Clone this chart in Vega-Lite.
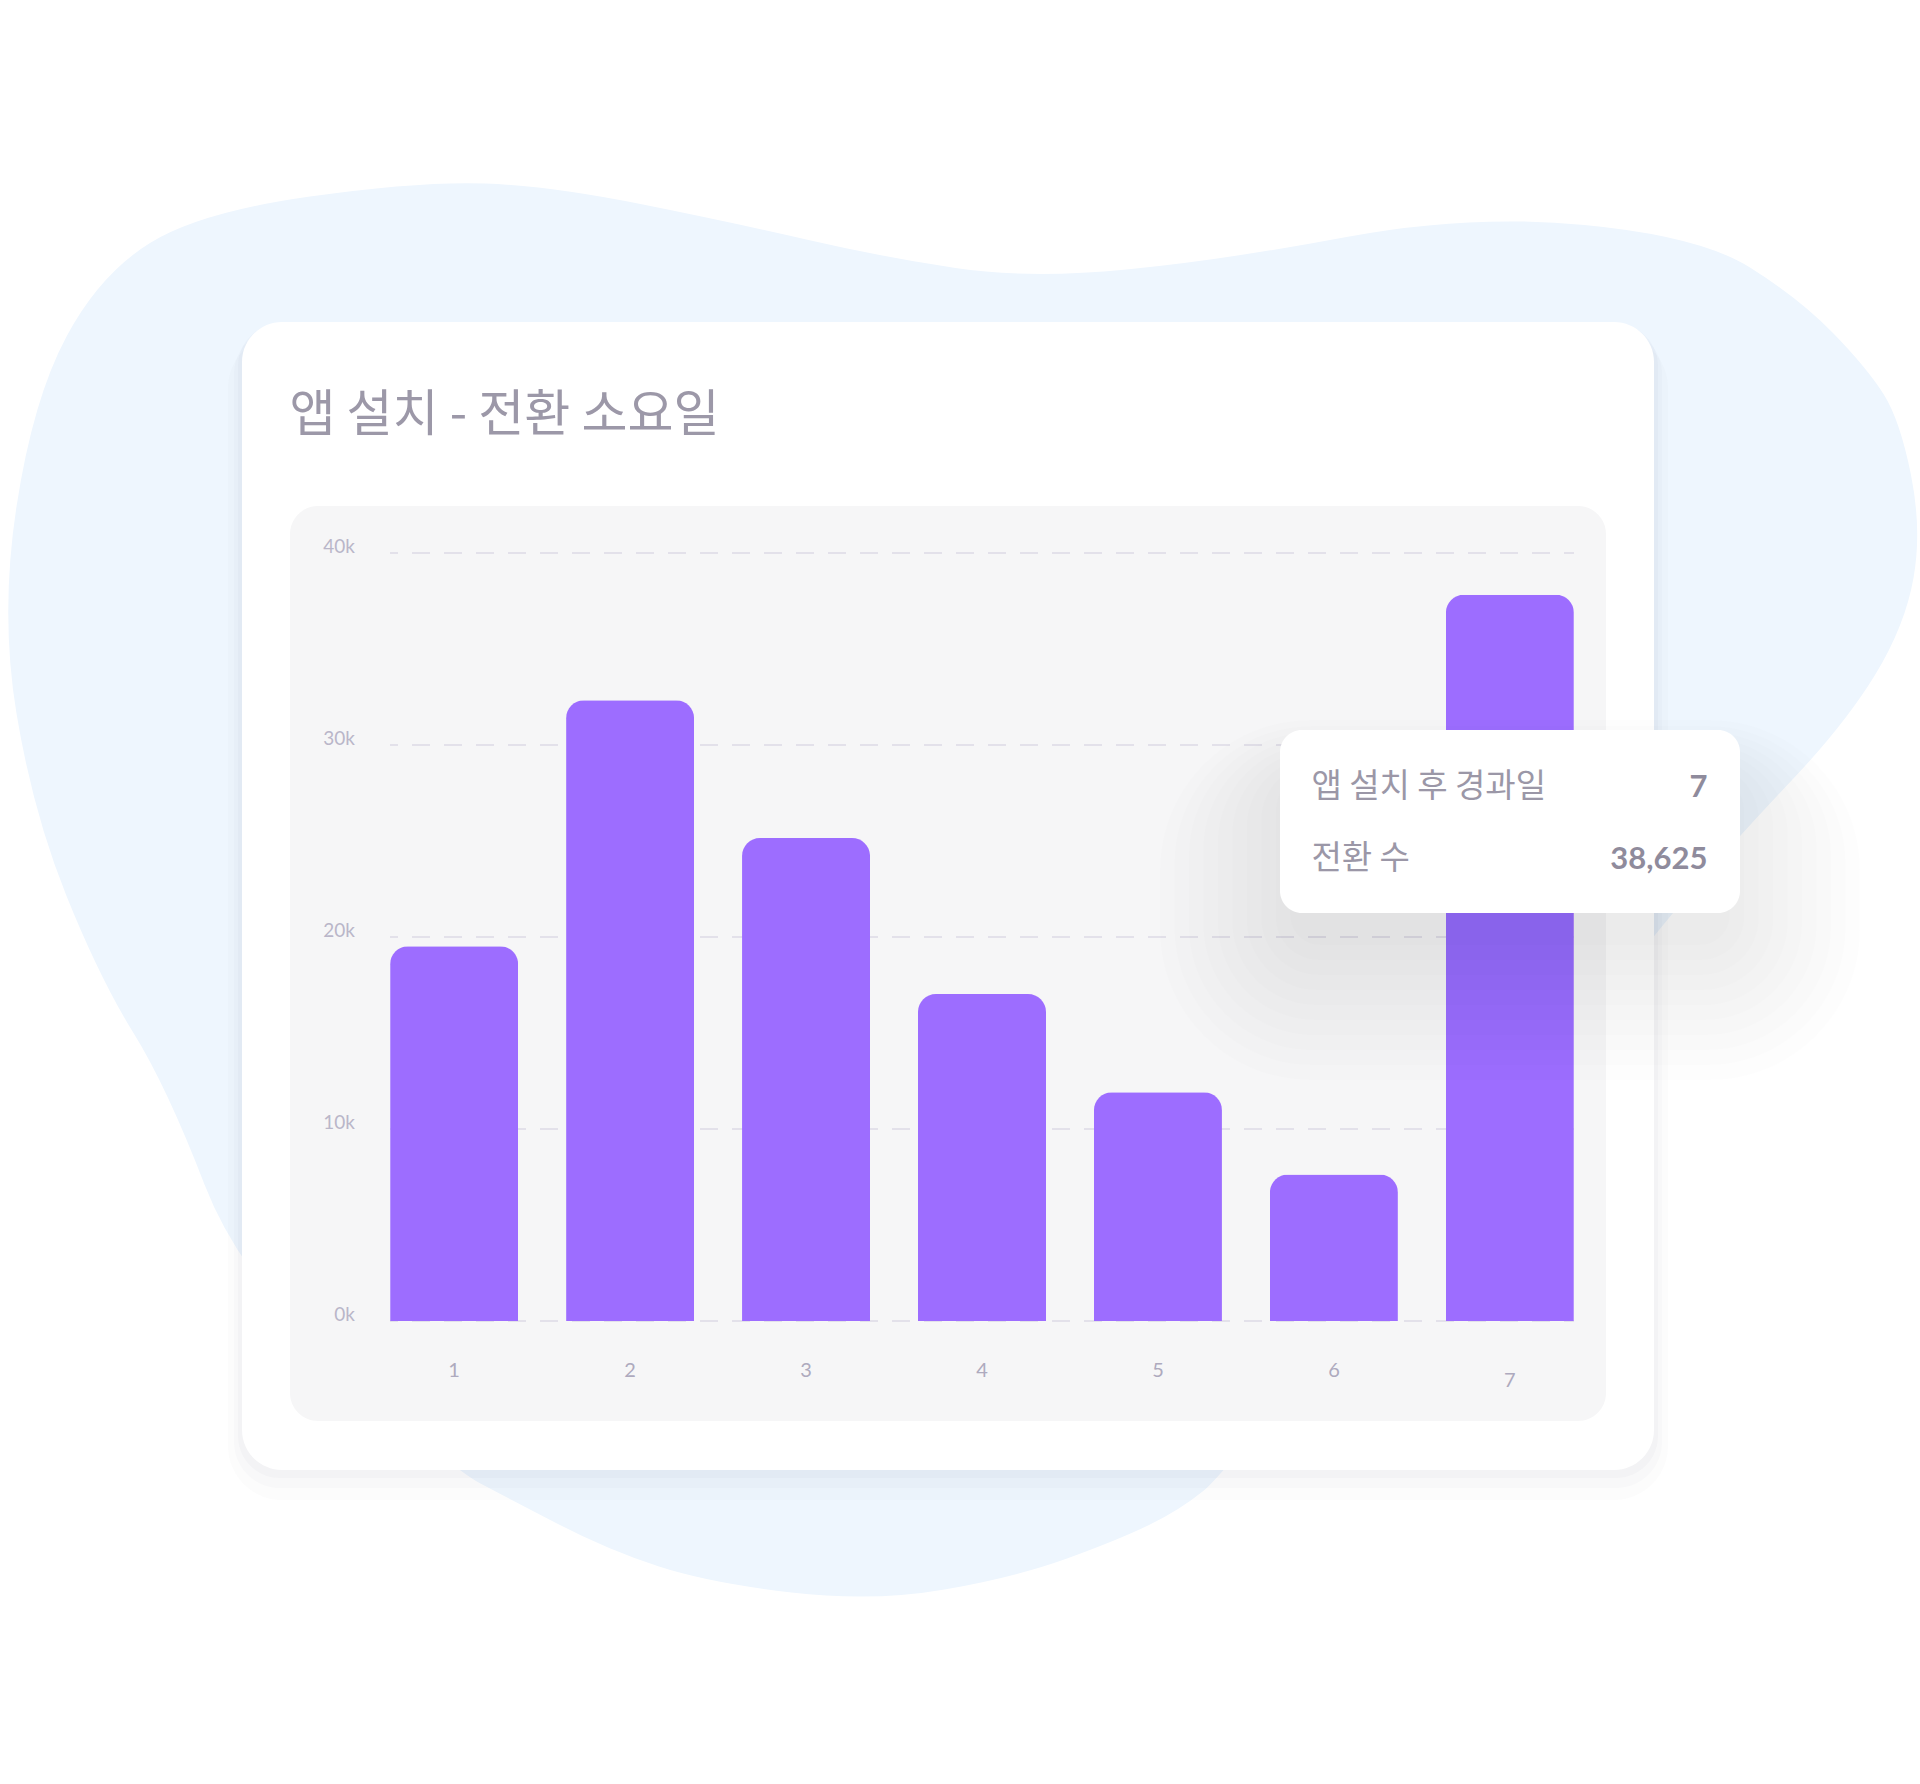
{
  "$schema": "https://vega.github.io/schema/vega-lite/v6.json",
  "width": 1184,
  "height": 768,
  "autosize": "none",
  "padding": {"left": 390, "top": 553, "right": 346, "bottom": 463},
  "background": "#ffffff",
  "config": {"view": {"stroke": null}},
  "datasets": {
    "days": [
      {"day": 1, "conversions": 19516},
      {"day": 2, "conversions": 32328},
      {"day": 3, "conversions": 25156},
      {"day": 4, "conversions": 17031},
      {"day": 5, "conversions": 11911},
      {"day": 6, "conversions": 7630},
      {"day": 7, "conversions": 37823}
    ],
    "ticks": [
      {"tick": 0, "label": "0k"},
      {"tick": 10000, "label": "10k"},
      {"tick": 20000, "label": "20k"},
      {"tick": 30000, "label": "30k"},
      {"tick": 40000, "label": "40k"}
    ],
    "one": [{}]
  },
  "layer": [
    {
      "data": {"name": "one"},
      "mark": {
        "type": "point",
        "filled": true,
        "opacity": 1,
        "color": "#eef6fe",
        "strokeWidth": 0,
        "shape": "M -0.9655 -0.2235 Q -0.982 -0.323 -0.9655 -0.4305 Q -0.949 -0.538 -0.9155 -0.6005 Q -0.882 -0.663 -0.832 -0.694 Q -0.782 -0.725 -0.672 -0.7405 Q -0.562 -0.756 -0.4965 -0.7535 Q -0.431 -0.751 -0.339 -0.7325 Q -0.247 -0.714 -0.1735 -0.697 Q -0.1 -0.68 -0.0265 -0.669 Q 0.047 -0.658 0.1445 -0.6675 Q 0.242 -0.677 0.3645 -0.7 Q 0.487 -0.723 0.6025 -0.712 Q 0.718 -0.701 0.768 -0.6695 Q 0.818 -0.638 0.8515 -0.6035 Q 0.885 -0.569 0.9015 -0.543 Q 0.918 -0.517 0.929 -0.462 Q 0.94 -0.407 0.9315 -0.359 Q 0.923 -0.311 0.893 -0.262 Q 0.863 -0.213 0.8105 -0.1575 Q 0.758 -0.102 0.715 -0.0525 Q 0.672 -0.003 0.4595 0.265 Q 0.247 0.533 0.2225 0.553 Q 0.198 0.573 0.167 0.588 Q 0.136 0.603 0.085 0.6215 Q 0.034 0.64 -0.0375 0.6525 Q -0.109 0.665 -0.1905 0.6555 Q -0.272 0.646 -0.323 0.6295 Q -0.374 0.613 -0.425 0.5865 Q -0.476 0.56 -0.5025 0.546 Q -0.529 0.532 -0.6345 0.4385 Q -0.74 0.345 -0.7775 0.2475 Q -0.815 0.15 -0.8485 0.096 Q -0.882 0.042 -0.9155 -0.041 Q -0.949 -0.124 -0.9655 -0.2235 Z"
      },
      "encoding": {
        "x": {"datum": 4, "type": "quantitative", "scale": {"domain": [0.6357, 7.3643], "nice": false, "zero": false, "padding": 0}, "axis": null},
        "y": {"datum": 20000, "type": "quantitative", "scale": {"domain": [0, 40000], "nice": false}, "axis": null},
        "size": {"value": 4000000}
      }
    },
    {
      "data": {"name": "one"},
      "mark": {"type": "rect", "color": "#5a6478", "opacity": 0.02, "cornerRadius": 54},
      "encoding": {
        "x": {"datum": -0.2849, "type": "quantitative", "scale": {"domain": [0.6357, 7.3643], "nice": false, "zero": false, "padding": 0}, "axis": null},
        "x2": {"datum": 7.8984},
        "y": {"datum": 51406, "type": "quantitative", "scale": {"domain": [0, 40000], "nice": false}, "axis": null},
        "y2": {"datum": -9323}
      }
    },
    {
      "data": {"name": "one"},
      "mark": {"type": "rect", "color": "#5a6478", "opacity": 0.025, "cornerRadius": 46},
      "encoding": {
        "x": {"datum": -0.2508, "type": "quantitative", "scale": {"domain": [0.6357, 7.3643], "nice": false, "zero": false, "padding": 0}, "axis": null},
        "x2": {"datum": 7.8644},
        "y": {"datum": 51719, "type": "quantitative", "scale": {"domain": [0, 40000], "nice": false}, "axis": null},
        "y2": {"datum": -8698}
      }
    },
    {
      "data": {"name": "one"},
      "mark": {"type": "rect", "color": "#5a6478", "opacity": 0.03, "cornerRadius": 42},
      "encoding": {
        "x": {"datum": -0.2281, "type": "quantitative", "scale": {"domain": [0.6357, 7.3643], "nice": false, "zero": false, "padding": 0}, "axis": null},
        "x2": {"datum": 7.8416},
        "y": {"datum": 51927, "type": "quantitative", "scale": {"domain": [0, 40000], "nice": false}, "axis": null},
        "y2": {"datum": -8177}
      }
    },
    {
      "data": {"name": "one"},
      "mark": {"type": "rect", "color": "#ffffff", "cornerRadius": 40},
      "encoding": {
        "x": {"datum": -0.2054, "type": "quantitative", "scale": {"domain": [0.6357, 7.3643], "nice": false, "zero": false, "padding": 0}, "axis": null},
        "x2": {"datum": 7.8189},
        "y": {"datum": 52031, "type": "quantitative", "scale": {"domain": [0, 40000], "nice": false}, "axis": null},
        "y2": {"datum": -7760}
      }
    },
    {
      "data": {"name": "one"},
      "mark": {"type": "rect", "color": "#f6f6f7", "cornerRadius": 28},
      "encoding": {
        "x": {"datum": 0.0674, "type": "quantitative", "scale": {"domain": [0.6357, 7.3643], "nice": false, "zero": false, "padding": 0}, "axis": null},
        "x2": {"datum": 7.5461},
        "y": {"datum": 42448, "type": "quantitative", "scale": {"domain": [0, 40000], "nice": false}, "axis": null},
        "y2": {"datum": -5208}
      }
    },
    {
      "data": {"name": "ticks"},
      "mark": {"type": "rule", "color": "#e3e1ea", "strokeWidth": 2, "strokeDash": [18, 14], "strokeDashOffset": 8},
      "encoding": {
        "y": {"field": "tick", "type": "quantitative", "scale": {"domain": [0, 40000], "nice": false}, "axis": null}
      }
    },
    {
      "data": {"name": "ticks"},
      "mark": {"type": "text", "font": "Lato", "fontSize": 19, "color": "#bab6c9", "align": "right", "baseline": "alphabetic"},
      "encoding": {
        "x": {"datum": 0.4368, "type": "quantitative", "scale": {"domain": [0.6357, 7.3643], "nice": false, "zero": false, "padding": 0}, "axis": null},
        "y": {"field": "tick", "type": "quantitative", "scale": {"domain": [0, 40000], "nice": false}, "axis": null},
        "text": {"field": "label"}
      }
    },
    {
      "data": {"name": "days"},
      "mark": {"type": "bar", "size": 128, "color": "#9d6dff", "cornerRadiusTopLeft": 18, "cornerRadiusTopRight": 18},
      "encoding": {
        "x": {"field": "day", "type": "quantitative", "scale": {"domain": [0.6357, 7.3643], "nice": false, "zero": false, "padding": 0}, "axis": null},
        "y": {"field": "conversions", "type": "quantitative", "scale": {"domain": [0, 40000], "nice": false}, "axis": null}
      }
    },
    {
      "data": {"name": "days"},
      "transform": [{"filter": "datum.day < 7"}],
      "mark": {"type": "text", "font": "Lato", "fontSize": 20, "color": "#aeaabe", "align": "center", "baseline": "alphabetic"},
      "encoding": {
        "x": {"field": "day", "type": "quantitative", "scale": {"domain": [0.6357, 7.3643], "nice": false, "zero": false, "padding": 0}, "axis": null},
        "y": {"datum": -2901, "type": "quantitative", "scale": {"domain": [0, 40000], "nice": false}, "axis": null},
        "text": {"field": "day", "type": "quantitative", "format": "d"}
      }
    },
    {
      "data": {"name": "days"},
      "transform": [{"filter": "datum.day === 7"}],
      "mark": {"type": "text", "font": "Lato", "fontSize": 20, "color": "#aeaabe", "align": "center", "baseline": "alphabetic"},
      "encoding": {
        "x": {"field": "day", "type": "quantitative", "scale": {"domain": [0.6357, 7.3643], "nice": false, "zero": false, "padding": 0}, "axis": null},
        "y": {"datum": -3422, "type": "quantitative", "scale": {"domain": [0, 40000], "nice": false}, "axis": null},
        "text": {"field": "day", "type": "quantitative", "format": "d"}
      }
    },
    {
      "data": {"name": "one"},
      "mark": {"type": "text", "text": "앱 설치 - 전환 소요일", "font": "Noto Sans CJK KR", "fontSize": 50, "color": "#9c98a8", "align": "left", "baseline": "alphabetic"},
      "encoding": {
        "x": {"datum": 0.064, "type": "quantitative", "scale": {"domain": [0.6357, 7.3643], "nice": false, "zero": false, "padding": 0}, "axis": null},
        "y": {"datum": 46354, "type": "quantitative", "scale": {"domain": [0, 40000], "nice": false}, "axis": null}
      }
    },
    {
      "data": {"name": "one"},
      "mark": {"type": "rect", "color": "#28283c", "opacity": 0.0075, "cornerRadius": 150},
      "encoding": {
        "x": {"datum": 5.0115, "type": "quantitative", "scale": {"domain": [0.6357, 7.3643], "nice": false, "zero": false, "padding": 0}, "axis": null},
        "x2": {"datum": 8.9896},
        "y": {"datum": 31302, "type": "quantitative", "scale": {"domain": [0, 40000], "nice": false}, "axis": null},
        "y2": {"datum": 12552}
      }
    },
    {
      "data": {"name": "one"},
      "mark": {"type": "rect", "color": "#28283c", "opacity": 0.0075, "cornerRadius": 137},
      "encoding": {
        "x": {"datum": 5.0934, "type": "quantitative", "scale": {"domain": [0.6357, 7.3643], "nice": false, "zero": false, "padding": 0}, "axis": null},
        "x2": {"datum": 8.9078},
        "y": {"datum": 30984, "type": "quantitative", "scale": {"domain": [0, 40000], "nice": false}, "axis": null},
        "y2": {"datum": 13333}
      }
    },
    {
      "data": {"name": "one"},
      "mark": {"type": "rect", "color": "#28283c", "opacity": 0.0075, "cornerRadius": 123},
      "encoding": {
        "x": {"datum": 5.1758, "type": "quantitative", "scale": {"domain": [0.6357, 7.3643], "nice": false, "zero": false, "padding": 0}, "axis": null},
        "x2": {"datum": 8.8254},
        "y": {"datum": 30667, "type": "quantitative", "scale": {"domain": [0, 40000], "nice": false}, "axis": null},
        "y2": {"datum": 14115}
      }
    },
    {
      "data": {"name": "one"},
      "mark": {"type": "rect", "color": "#28283c", "opacity": 0.0075, "cornerRadius": 110},
      "encoding": {
        "x": {"datum": 5.2576, "type": "quantitative", "scale": {"domain": [0.6357, 7.3643], "nice": false, "zero": false, "padding": 0}, "axis": null},
        "x2": {"datum": 8.7435},
        "y": {"datum": 30349, "type": "quantitative", "scale": {"domain": [0, 40000], "nice": false}, "axis": null},
        "y2": {"datum": 14896}
      }
    },
    {
      "data": {"name": "one"},
      "mark": {"type": "rect", "color": "#28283c", "opacity": 0.0075, "cornerRadius": 97},
      "encoding": {
        "x": {"datum": 5.34, "type": "quantitative", "scale": {"domain": [0.6357, 7.3643], "nice": false, "zero": false, "padding": 0}, "axis": null},
        "x2": {"datum": 8.6611},
        "y": {"datum": 30031, "type": "quantitative", "scale": {"domain": [0, 40000], "nice": false}, "axis": null},
        "y2": {"datum": 15677}
      }
    },
    {
      "data": {"name": "one"},
      "mark": {"type": "rect", "color": "#28283c", "opacity": 0.0075, "cornerRadius": 83},
      "encoding": {
        "x": {"datum": 5.4218, "type": "quantitative", "scale": {"domain": [0.6357, 7.3643], "nice": false, "zero": false, "padding": 0}, "axis": null},
        "x2": {"datum": 8.5793},
        "y": {"datum": 29708, "type": "quantitative", "scale": {"domain": [0, 40000], "nice": false}, "axis": null},
        "y2": {"datum": 16458}
      }
    },
    {
      "data": {"name": "one"},
      "mark": {"type": "rect", "color": "#28283c", "opacity": 0.0075, "cornerRadius": 70},
      "encoding": {
        "x": {"datum": 5.5042, "type": "quantitative", "scale": {"domain": [0.6357, 7.3643], "nice": false, "zero": false, "padding": 0}, "axis": null},
        "x2": {"datum": 8.4969},
        "y": {"datum": 29391, "type": "quantitative", "scale": {"domain": [0, 40000], "nice": false}, "axis": null},
        "y2": {"datum": 17240}
      }
    },
    {
      "data": {"name": "one"},
      "mark": {"type": "rect", "color": "#28283c", "opacity": 0.0075, "cornerRadius": 57},
      "encoding": {
        "x": {"datum": 5.5861, "type": "quantitative", "scale": {"domain": [0.6357, 7.3643], "nice": false, "zero": false, "padding": 0}, "axis": null},
        "x2": {"datum": 8.415},
        "y": {"datum": 29073, "type": "quantitative", "scale": {"domain": [0, 40000], "nice": false}, "axis": null},
        "y2": {"datum": 18021}
      }
    },
    {
      "data": {"name": "one"},
      "mark": {"type": "rect", "color": "#28283c", "opacity": 0.0075, "cornerRadius": 43},
      "encoding": {
        "x": {"datum": 5.6685, "type": "quantitative", "scale": {"domain": [0.6357, 7.3643], "nice": false, "zero": false, "padding": 0}, "axis": null},
        "x2": {"datum": 8.3326},
        "y": {"datum": 28755, "type": "quantitative", "scale": {"domain": [0, 40000], "nice": false}, "axis": null},
        "y2": {"datum": 18802}
      }
    },
    {
      "data": {"name": "one"},
      "mark": {"type": "rect", "color": "#28283c", "opacity": 0.0075, "cornerRadius": 30},
      "encoding": {
        "x": {"datum": 5.7503, "type": "quantitative", "scale": {"domain": [0.6357, 7.3643], "nice": false, "zero": false, "padding": 0}, "axis": null},
        "x2": {"datum": 8.2508},
        "y": {"datum": 28437, "type": "quantitative", "scale": {"domain": [0, 40000], "nice": false}, "axis": null},
        "y2": {"datum": 19583}
      }
    },
    {
      "data": {"name": "one"},
      "mark": {"type": "rect", "color": "#ffffff", "cornerRadius": 22},
      "encoding": {
        "x": {"datum": 5.6935, "type": "quantitative", "scale": {"domain": [0.6357, 7.3643], "nice": false, "zero": false, "padding": 0}, "axis": null},
        "x2": {"datum": 8.3076},
        "y": {"datum": 30781, "type": "quantitative", "scale": {"domain": [0, 40000], "nice": false}, "axis": null},
        "y2": {"datum": 21250}
      }
    },
    {
      "data": {"name": "one"},
      "mark": {"type": "text", "text": "앱 설치 후 경과일", "font": "Noto Sans CJK KR", "fontSize": 33, "color": "#9b97a7", "align": "left", "baseline": "alphabetic"},
      "encoding": {
        "x": {"datum": 5.8719, "type": "quantitative", "scale": {"domain": [0.6357, 7.3643], "nice": false, "zero": false, "padding": 0}, "axis": null},
        "y": {"datum": 27300, "type": "quantitative", "scale": {"domain": [0, 40000], "nice": false}, "axis": null}
      }
    },
    {
      "data": {"name": "one"},
      "mark": {"type": "text", "text": "전환 수", "font": "Noto Sans CJK KR", "fontSize": 33, "color": "#9b97a7", "align": "left", "baseline": "alphabetic"},
      "encoding": {
        "x": {"datum": 5.8719, "type": "quantitative", "scale": {"domain": [0.6357, 7.3643], "nice": false, "zero": false, "padding": 0}, "axis": null},
        "y": {"datum": 23550, "type": "quantitative", "scale": {"domain": [0, 40000], "nice": false}, "axis": null}
      }
    },
    {
      "data": {"name": "one"},
      "mark": {"type": "text", "text": "7", "font": "Lato", "fontSize": 31, "fontWeight": "bold", "color": "#8f8b9c", "align": "right", "baseline": "alphabetic"},
      "encoding": {
        "x": {"datum": 8.1229, "type": "quantitative", "scale": {"domain": [0.6357, 7.3643], "nice": false, "zero": false, "padding": 0}, "axis": null},
        "y": {"datum": 27300, "type": "quantitative", "scale": {"domain": [0, 40000], "nice": false}, "axis": null}
      }
    },
    {
      "data": {"name": "one"},
      "mark": {"type": "text", "text": "38,625", "font": "Lato", "fontSize": 31, "fontWeight": "bold", "color": "#8f8b9c", "align": "right", "baseline": "alphabetic"},
      "encoding": {
        "x": {"datum": 8.1229, "type": "quantitative", "scale": {"domain": [0.6357, 7.3643], "nice": false, "zero": false, "padding": 0}, "axis": null},
        "y": {"datum": 23550, "type": "quantitative", "scale": {"domain": [0, 40000], "nice": false}, "axis": null}
      }
    }
  ]
}
